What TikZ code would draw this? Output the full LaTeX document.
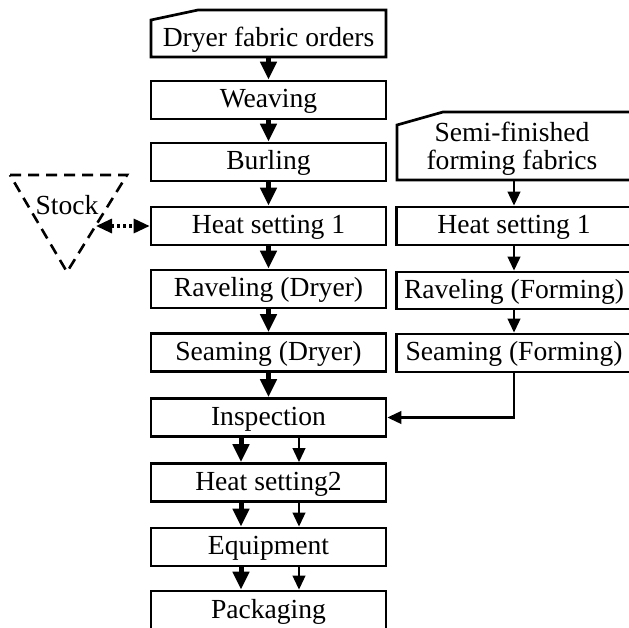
\documentclass[tikz,border=0pt]{standalone}
\usepackage{fontspec}
\setmainfont{Liberation Serif}
\usetikzlibrary{arrows.meta}
\tikzset{
  box/.style={draw, line width=2.7pt, minimum width=235pt, minimum height=38pt, inner sep=0pt,
    font=\fontsize{27.6}{28}\selectfont, text height=19.5pt, text depth=4.5pt},
  txt/.style={inner sep=0pt, font=\fontsize{27.6}{28}\selectfont, text height=19.5pt, text depth=4.5pt},
  outline/.style={draw, line width=2.7pt, line join=miter},
  bigarrow/.style={line width=5pt, -{Triangle[width=16pt,length=18pt]}},
  smallarrow/.style={line width=2.4pt, -{Triangle[width=12.5pt,length=14pt]}},
  dotarrow/.style={line width=3.2pt, dash pattern=on 3pt off 3pt,
    {Triangle[width=14pt,length=16pt]}-{Triangle[width=14pt,length=16pt]}},
  stockline/.style={line width=2.6pt, dash pattern=on 11pt off 7pt}
}
\begin{document}
\begin{tikzpicture}[x=1pt,y=-1pt]
\clip (0,0) rectangle (629,627);
\fill[white] (0,0) rectangle (629,627);
% left column
\node[txt] (orders) at (268.5,39) {Dryer fabric orders};
\draw[outline] (151,57) -- (151,20) -- (198,10) -- (386,10) -- (386,57) -- cycle;
\coordinate (ordersS) at (268.5,57);
\node[box] (weave) at (268.5,100) {Weaving};
\node[box] (burl) at (268.5,162) {Burling};
\node[box] (hs1) at (268.5,226) {Heat setting 1};
\node[box] (ravd) at (268.5,289) {Raveling (Dryer)};
\node[box] (seamd) at (268.5,352.5) {Seaming (Dryer)};
\node[box] (insp) at (268.5,417.5) {Inspection};
\node[box] (hs2) at (268.5,482.5) {Heat setting2};
\node[box] (equip) at (268.5,547) {Equipment};
\node[box, minimum height=40pt] (pack) at (268.5,611) {Packaging};
% right column
\node[txt, align=center, text height=, text depth=] (semi) at (512,149) {Semi-finished\\forming fabrics};
\draw[outline] (397,180) -- (397,125) -- (443,112) -- (640,112) -- (640,180) -- cycle;
\coordinate (semiS) at (514,180);
\node[box] (hs1f) at (514,226) {Heat setting 1};
\node[box, minimum height=37pt] (ravf) at (514,290.5) {Raveling (Forming)};
\node[box] (seamf) at (514,353) {Seaming (Forming)};
% stock
\coordinate (tA) at (10,175);
\coordinate (tB) at (127,175);
\coordinate (tC) at (67,272);
\draw[stockline] (tA) -- (tB) -- (tC) -- cycle;
\node[txt] (stock) at (67,207) {Stock};
\coordinate (stockE) at (96,226);
% connectors
\draw[bigarrow] (ordersS) -- (weave.north);
\draw[bigarrow] (weave.south) -- (burl.north);
\draw[bigarrow] (burl.south) -- (hs1.north);
\draw[bigarrow] (hs1.south) -- (ravd.north);
\draw[bigarrow] (ravd.south) -- (seamd.north);
\draw[bigarrow] (seamd.south) -- (insp.north);
\draw[bigarrow] ([xshift=-27.5pt]insp.south) -- ([xshift=-27.5pt]hs2.north);
\draw[smallarrow] ([xshift=30.5pt]insp.south) -- ([xshift=30.5pt]hs2.north);
\draw[bigarrow] ([xshift=-27.5pt]hs2.south) -- ([xshift=-27.5pt]equip.north);
\draw[smallarrow] ([xshift=30.5pt]hs2.south) -- ([xshift=30.5pt]equip.north);
\draw[bigarrow] ([xshift=-27.5pt]equip.south) -- ([xshift=-27.5pt]pack.north);
\draw[smallarrow] ([xshift=30.5pt]equip.south) -- ([xshift=30.5pt]pack.north);
\draw[smallarrow] (semiS) -- (hs1f.north);
\draw[smallarrow] (hs1f.south) -- (ravf.north);
\draw[smallarrow] (ravf.south) -- (seamf.north);
\draw[smallarrow] (seamf.south) |- (insp.east);
\draw[dotarrow] (stockE) -- (hs1.west);
\end{tikzpicture}
\end{document}
